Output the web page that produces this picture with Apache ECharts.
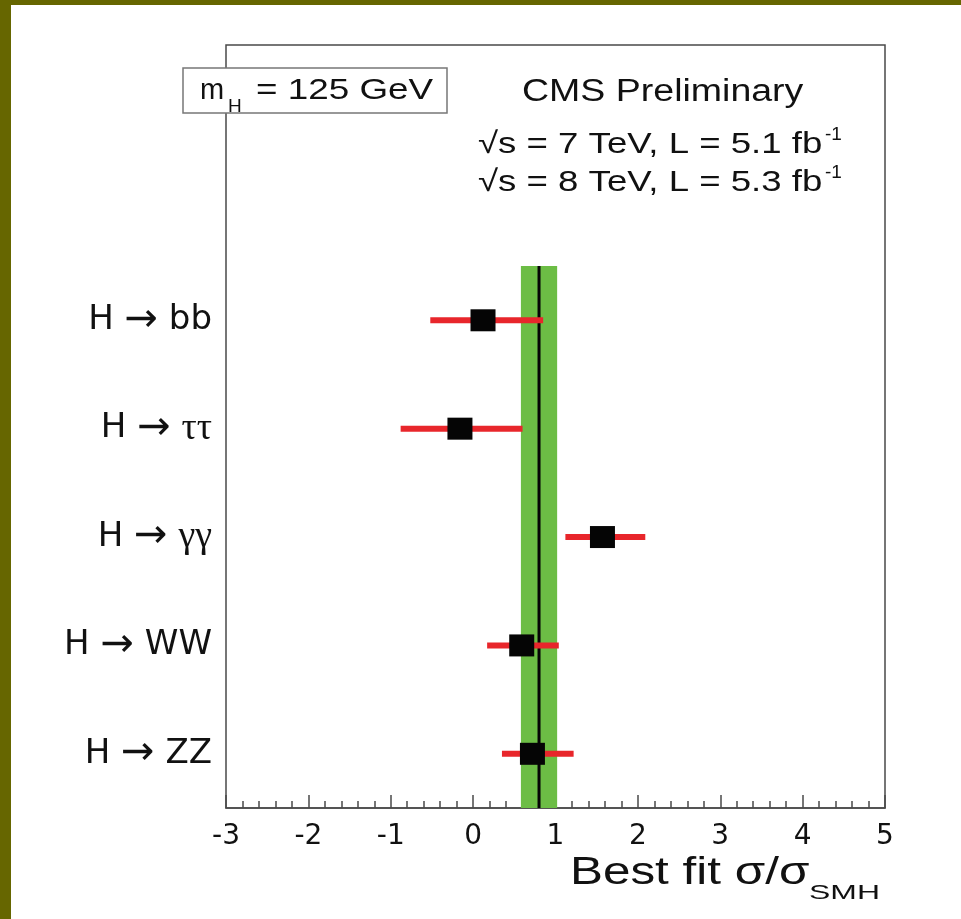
<!DOCTYPE html>
<html>
<head>
<meta charset="utf-8">
<script src="https://cdn.jsdelivr.net/npm/echarts@6/dist/echarts.min.js"></script>
<style>
html,body{margin:0;padding:0;background:#fff;}
#chart{width:961px;height:919px;}
</style>
</head>
<body>
<div id="chart"></div>
<script>
// ---- data ----
const channels = ['H → bb', 'H → ττ', 'H → γγ', 'H → WW', 'H → ZZ'];
const bestFit  = [0.12, -0.16, 1.57, 0.59, 0.72];
const errLow   = [-0.52, -0.88, 1.12, 0.17, 0.35];
const errHigh  = [0.85, 0.60, 2.09, 1.04, 1.22];
const combinedMu = 0.80;
const combinedLo = 0.58;
const combinedHi = 1.02;
const xTicks = [-3, -2, -1, 0, 1, 2, 3, 4, 5];

// row value on the (hidden) vertical scale: top channel first
function rowOf(i) { return channels.length - i - 0.5; }

const FONT = '"Liberation Sans", Arial, Helvetica, sans-serif';
const WIDE = '"DejaVu Sans", sans-serif';
const SERIF = '"Liberation Serif", "DejaVu Serif", serif';

function channelLabel(name) {
  const parts = name.split(' → ');
  const greek = /[τγ]/.test(parts[1]);
  return '{a|' + parts[0] + ' }{r|→}{a| }' + (greek ? '{g|' + parts[1] + '}' : '{a|' + parts[1] + '}');
}

// text placed by its baseline, horizontally stretched like the reference
function txt(x, baseline, text, size, sx, align) {
  return {
    type: 'text', z: 101, x: x, y: baseline - 0.22 * size, scaleX: sx,
    style: {x: 0, y: 0, text: text, font: size + 'px ' + FONT, fill: '#111',
      align: align || 'left', verticalAlign: 'middle'}
  };
}

const chart = echarts.init(document.getElementById('chart'), null, {renderer: 'canvas'});

const option = {
  backgroundColor: '#ffffff',
  animation: false,
  grid: {
    left: 226, right: 76, top: 45, bottom: 111,
    show: true, borderColor: '#4a4a4a', borderWidth: 1.5, backgroundColor: 'transparent'
  },
  xAxis: {
    type: 'value',
    min: xTicks[0], max: xTicks[xTicks.length - 1], interval: 1,
    axisLine: {show: true, onZero: false, lineStyle: {color: '#4a4a4a', width: 1.5}},
    axisTick: {show: true, inside: true, length: 13, lineStyle: {color: '#4a4a4a', width: 1.5}},
    minorTick: {show: true, splitNumber: 5, length: 7, lineStyle: {color: '#4a4a4a', width: 1.5}},
    splitLine: {show: false},
    axisLabel: {
      margin: 15, color: '#111', fontSize: 28, fontFamily: WIDE,
      formatter: v => String(v)
    }
  },
  yAxis: {
    type: 'value',
    min: 0, max: 7.04, interval: 0.5,
    axisLine: {show: false},
    axisTick: {show: false},
    splitLine: {show: false},
    axisLabel: {
      margin: 14,
      showMaxLabel: false,
      formatter: function (v) {
        const i = Math.round(channels.length - 0.5 - v);
        if (Math.abs((channels.length - i - 0.5) - v) > 1e-6) return '';
        if (i < 0 || i >= channels.length) return '';
        return channelLabel(channels[i]);
      },
      rich: {
        a: {fontSize: 34, fontFamily: WIDE, color: '#111'},
        r: {fontSize: 40, fontFamily: WIDE, color: '#111'},
        g: {fontSize: 38, fontFamily: SERIF, color: '#111'}
      }
    }
  },
  graphic: [
    {type: 'rect', z: 100, shape: {x: 0, y: 0, width: 961, height: 5}, style: {fill: '#666600'}},
    {type: 'rect', z: 100, shape: {x: 0, y: 0, width: 11, height: 919}, style: {fill: '#666600'}},
    {type: 'rect', z: 100, shape: {x: 183, y: 68, width: 264, height: 45},
      style: {fill: '#fff', stroke: '#777', lineWidth: 1.5}},
    txt(200, 97, 'm', 29, 1.0),
    txt(228, 111, 'H', 19, 1.0),
    txt(256, 97, '= 125 GeV', 29, 1.27),
    txt(522, 99, 'CMS Preliminary', 31, 1.21),
    txt(478, 151, '√s = 7 TeV, L = 5.1 fb', 30, 1.22),
    txt(825, 139, '-1', 19, 1.0),
    txt(478, 189, '√s = 8 TeV, L = 5.3 fb', 30, 1.22),
    txt(825, 177, '-1', 19, 1.0),
    // axis title
    txt(570, 882, 'Best fit σ/σ', 38, 1.3),
    txt(809, 898, 'SMH', 21, 1.52)
  ],
  series: [
    {
      name: 'band',
      type: 'custom',
      data: [[combinedLo, combinedHi, combinedMu]],
      encode: {x: [0, 1, 2]},
      renderItem: function (params, api) {
        const p1 = api.coord([api.value(0), channels.length]);
        const p2 = api.coord([api.value(1), 0]);
        const pm = api.coord([api.value(2), channels.length]);
        const pb = api.coord([api.value(2), 0]);
        return {
          type: 'group',
          children: [
            {type: 'rect', shape: {x: p1[0], y: p1[1], width: p2[0] - p1[0], height: p2[1] - p1[1]},
              style: {fill: '#6cbd45'}},
            {type: 'line', shape: {x1: pm[0], y1: pm[1], x2: pb[0], y2: pb[1]},
              style: {stroke: '#050505', lineWidth: 3}}
          ]
        };
      }
    },
    {
      name: 'errors',
      type: 'custom',
      data: channels.map((c, i) => [errLow[i], errHigh[i], rowOf(i)]),
      encode: {x: [0, 1], y: 2},
      renderItem: function (params, api) {
        const a = api.coord([api.value(0), api.value(2)]);
        const b = api.coord([api.value(1), api.value(2)]);
        return {type: 'line', shape: {x1: a[0], y1: a[1], x2: b[0], y2: b[1]},
          style: {stroke: '#e8262b', lineWidth: 6}};
      }
    },
    {
      name: 'best fit',
      type: 'scatter',
      symbol: 'rect',
      symbolSize: [25, 22],
      itemStyle: {color: '#050505', opacity: 1},
      emphasis: {disabled: true},
      data: channels.map((c, i) => [bestFit[i], rowOf(i)])
    }
  ]
};
chart.setOption(option);
</script>
</body>
</html>
